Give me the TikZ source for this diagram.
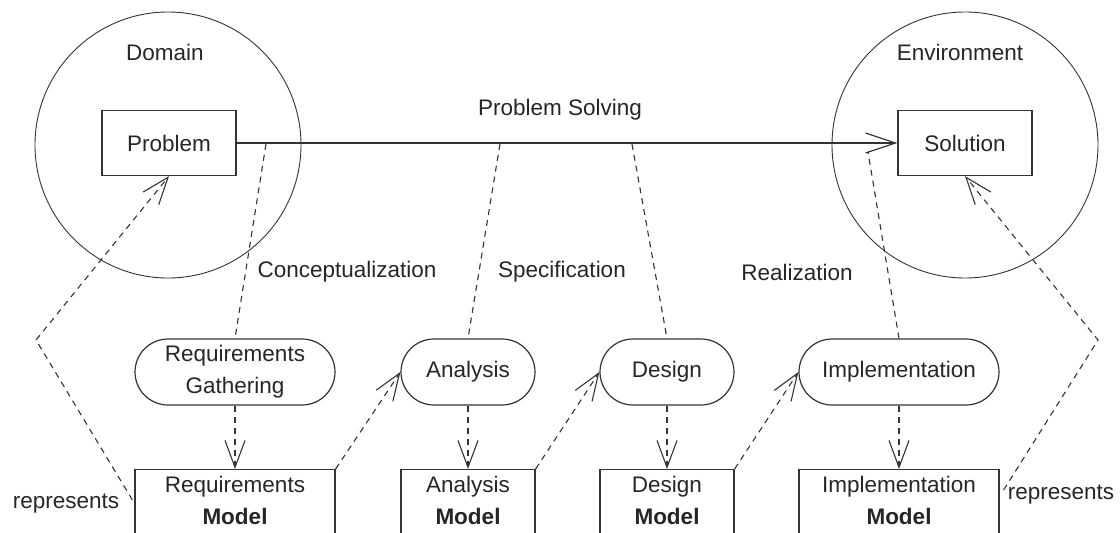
\documentclass[tikz,border=0pt]{standalone}
\usepackage{fontspec}
\setmainfont{Liberation Sans}
\usetikzlibrary{shapes.misc,arrows.meta,calc}

\begin{document}
\begin{tikzpicture}[x=1pt,y=-1pt,
  every node/.style={font=\fontsize{22.5}{32}\selectfont, text=black!85},
  box/.style={draw=black!80, line width=1.2pt, minimum height=65pt, minimum width=134pt},
  activity/.style={draw=black!80, rounded rectangle, line width=1.2pt, minimum height=66pt, align=center, inner xsep=0pt},
  model/.style={draw=black!80, line width=1.2pt, anchor=north, align=center, inner ysep=7pt, text depth=30pt},
  dep/.style={draw=black!80, dash pattern=on 6pt off 5pt, line width=1.1pt},
  open/.style={-{Straight Barb[length=27pt,width=20pt,line width=1.1pt]}}
]

\clip (0,0) rectangle (1120,533);

\node[draw=black!80, circle, minimum size=266pt, line width=0.9pt] (domain) at (168,145) {};
\node (domainlbl) at (165,52) {Domain};
\node[draw=black!80, circle, minimum size=266pt, line width=0.9pt] (env) at (965,145) {};
\node (envlbl) at (960,52) {Environment};

\node[box] (problem) at (169,143) {Problem};
\node[box] (solution) at (965,143) {Solution};
\node (ps) at (560,110) {Problem Solving};

\node[activity, minimum width=200pt] (rg) at (235,372) {Requirements\\Gathering};
\node[activity, minimum width=134pt] (an) at (468,372) {Analysis};
\node[activity, minimum width=134pt] (de) at (667,372) {Design};
\node[activity, minimum width=200pt] (im) at (899,372) {Implementation};

\node[model, minimum width=200pt] (rm) at (235,469) {Requirements\\\textbf{Model}};
\node[model, minimum width=134pt] (am) at (468,469) {Analysis\\\textbf{Model}};
\node[model, minimum width=134pt] (dm) at (667,469) {Design\\\textbf{Model}};
\node[model, minimum width=200pt] (imm) at (899,469) {Implementation\\\textbf{Model}};

\node (concept) at (347,272) {Conceptualization};
\node (spec) at (562,272) {Specification};
\node (real) at (797,272) {Realization};
\node (repl) at (66,504) {represents};
\node (repr) at (1061,495) {represents};

\coordinate (c1) at (266,144);
\coordinate (c2) at (500,144);
\coordinate (c3) at (632,144);
\coordinate (c4) at (868,152);
\coordinate (lbend) at (36,340);
\coordinate (rbend) at (1098,340);

\draw[line width=1.2pt, draw=black!80, -{Straight Barb[length=30pt,width=20pt,line width=1.2pt]}] (problem.east) -- (solution.west);

\draw[dep] (c1) -- (rg.north);
\draw[dep] (c2) -- (an.north);
\draw[dep] (c3) -- (de.north);
\draw[dep] (im.north) -- (c4);

\draw[dep,open] (rg.south) -- (rm.north);
\draw[dep,open] (an.south) -- (am.north);
\draw[dep,open] (de.south) -- (dm.north);
\draw[dep,open] (im.south) -- (imm.north);

\draw[dep,open] (rm.north east) -- (an.west);
\draw[dep,open] (am.north east) -- (de.west);
\draw[dep,open] (dm.north east) -- (im.west);

\draw[dep,open] ($(rm.north west)+(-2,31)$) -- (lbend) -- (problem.south);
\draw[dep,open] ($(imm.north east)+(4,21)$) -- (rbend) -- (solution.south);

\end{tikzpicture}
\end{document}
